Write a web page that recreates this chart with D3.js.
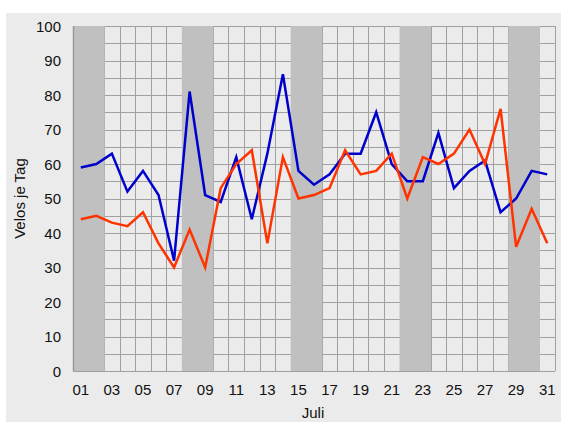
<!DOCTYPE html>
<html>
<head>
<meta charset="utf-8">
<script src="https://cdn.jsdelivr.net/npm/d3@7"></script>
<style>
  body { margin: 0; background: #fff; }
  svg { display: block; font-family: "Liberation Sans", Arial, sans-serif; }
</style>
</head>
<body>
<div id="chart"></div>
<script>
// days of July, weekend days get a gray band
const days = d3.range(1, 32).map(d => String(d).padStart(2, '0'));
const weekendDays = ['01', '02', '08', '09', '15', '16', '22', '23', '29', '30'];
const xTickLabels = days.filter((d, i) => i % 2 === 0);
const yTicks = [0, 10, 20, 30, 40, 50, 60, 70, 80, 90, 100];

const blueSeries = [59, 60, 63, 52, 58, 51, 32, 81, 51, 49, 62, 44, 63, 86, 58, 54, 57, 63, 63, 75,
                    60, 55, 55, 69, 53, 58, 61, 46, 50, 58, 57];
const redSeries = [44, 45, 43, 42, 46, 37, 30, 41, 30, 53, 60, 64, 37, 62, 50, 51, 53, 64, 57, 58,
                   63, 50, 62, 60, 63, 70, 60, 76, 36, 47, 37];

const width = 561, height = 422;
const margin = {top: 26, right: 6, bottom: 51, left: 73};

const svg = d3.select('#chart').append('svg')
    .attr('width', width)
    .attr('height', height);

// outer panel
svg.append('rect')
    .attr('x', 6).attr('y', 13)
    .attr('width', width - 6).attr('height', height - 13)
    .attr('fill', '#ebebeb');

const x = d3.scaleBand()
    .domain(days)
    .range([margin.left, width - margin.right])
    .padding(0);

const y = d3.scaleLinear()
    .domain([0, 100])
    .range([height - margin.bottom, margin.top]);

const grid = svg.append('g');

// horizontal grid every 5
grid.selectAll('.hline')
    .data(d3.range(0, 101, 5))
    .enter().append('line')
    .attr('x1', margin.left).attr('x2', width - margin.right)
    .attr('y1', d => Math.round(y(d)) + 0.5).attr('y2', d => Math.round(y(d)) + 0.5)
    .attr('stroke', '#a0a0a0').attr('stroke-width', 1);

// vertical grid at day boundaries
grid.selectAll('.vline')
    .data(days.concat(['end']))
    .enter().append('line')
    .attr('x1', d => Math.round(d === 'end' ? x.range()[1] : x(d)) + 0.5)
    .attr('x2', d => Math.round(d === 'end' ? x.range()[1] : x(d)) + 0.5)
    .attr('y1', y(100)).attr('y2', y(0))
    .attr('stroke', '#a0a0a0').attr('stroke-width', 1);

// weekend bands
svg.append('g').selectAll('rect')
    .data(weekendDays)
    .enter().append('rect')
    .attr('x', d => x(d))
    .attr('y', y(100))
    .attr('width', x.bandwidth() + 0.5)
    .attr('height', y(0) - y(100))
    .attr('fill', '#c0c0c0');

// left axis line
svg.append('line')
    .attr('x1', margin.left + 0.5).attr('x2', margin.left + 0.5)
    .attr('y1', y(100)).attr('y2', y(0))
    .attr('stroke', '#999').attr('stroke-width', 1.5);

// y axis labels
svg.append('g').selectAll('text')
    .data(yTicks)
    .enter().append('text')
    .attr('x', 61)
    .attr('y', d => y(d) + 5.5)
    .attr('text-anchor', 'end')
    .attr('font-size', 15)
    .attr('fill', '#111')
    .text(d => d);

// x axis labels
svg.append('g').selectAll('text')
    .data(xTickLabels)
    .enter().append('text')
    .attr('x', d => x(d) + x.bandwidth() / 2)
    .attr('y', 395)
    .attr('text-anchor', 'middle')
    .attr('font-size', 15)
    .attr('fill', '#111')
    .text(d => d);

svg.append('text')
    .attr('x', 313).attr('y', 418)
    .attr('text-anchor', 'middle')
    .attr('font-size', 15)
    .attr('fill', '#111')
    .text('Juli');

svg.append('text')
    .attr('transform', `translate(25, ${(y(0) + y(100)) / 2}) rotate(-90)`)
    .attr('text-anchor', 'middle')
    .attr('font-size', 15)
    .attr('fill', '#111')
    .text('Velos je Tag');

const line = d3.line()
    .x((d, i) => x(days[i]) + x.bandwidth() / 2)
    .y(d => y(d));

svg.append('path')
    .datum(blueSeries)
    .attr('d', line)
    .attr('fill', 'none')
    .attr('stroke', '#0000cc')
    .attr('stroke-width', 2.5)
    .attr('stroke-linejoin', 'miter');

svg.append('path')
    .datum(redSeries)
    .attr('d', line)
    .attr('fill', 'none')
    .attr('stroke', '#ff3300')
    .attr('stroke-width', 2.5)
    .attr('stroke-linejoin', 'miter');
</script>
</body>
</html>
